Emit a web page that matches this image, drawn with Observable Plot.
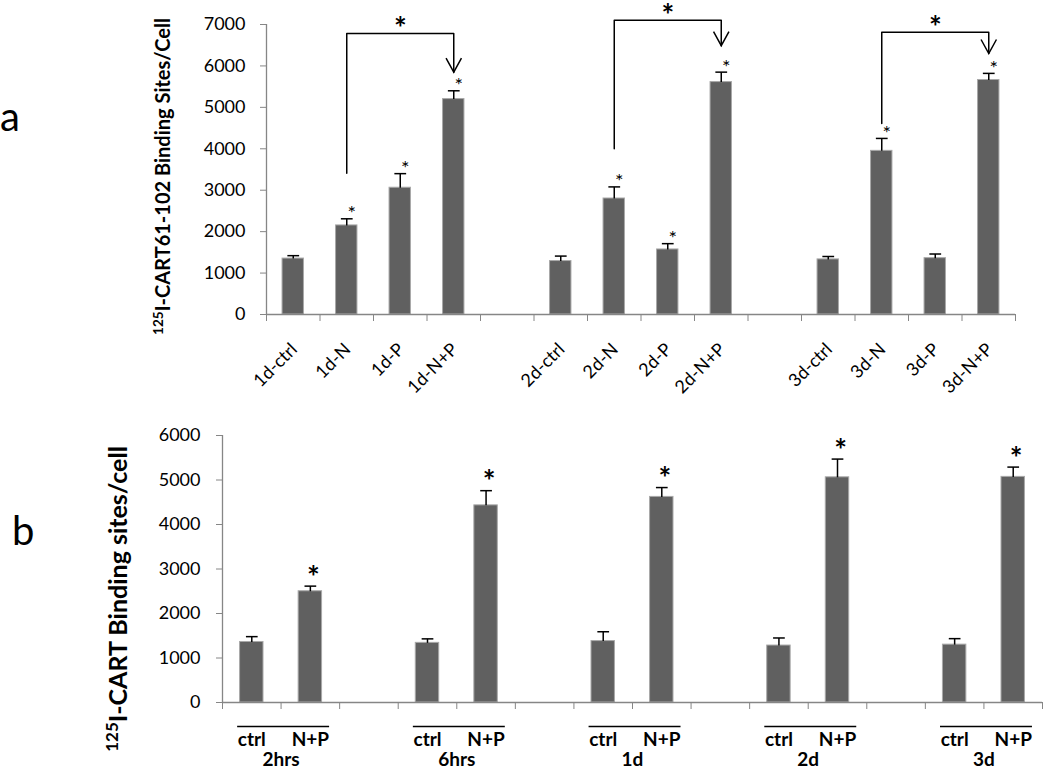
<!DOCTYPE html>
<html><head><meta charset="utf-8">
<script src="https://cdn.jsdelivr.net/npm/d3@7"></script>
<script src="https://cdn.jsdelivr.net/npm/@observablehq/plot@0.6"></script>
<style>
html,body{margin:0;padding:0;background:#fff;}
#wrap{position:relative;width:1050px;height:770px;overflow:hidden;font-family:Lato,sans-serif;color:#000;}
.plabel{position:absolute;font-family:Lato,sans-serif;font-size:40px;line-height:1;}
</style></head><body>
<div id="wrap">
  <div id="chartA" style="position:absolute;left:0;top:0"></div>
  <div id="chartB" style="position:absolute;left:0;top:420px"></div>
  <div class="plabel" style="left:0;top:96px">a</div>
  <div class="plabel" style="left:12px;top:510px">b</div>
</div>
<script>
// ---------- Panel a data ----------
const labelsA = ["1d-ctrl","1d-N","1d-P","1d-N+P","2d-ctrl","2d-N","2d-P","2d-N+P","3d-ctrl","3d-N","3d-P","3d-N+P"];
const meansA  = [1350, 2150, 3060, 5200, 1290, 2800, 1570, 5610, 1330, 3950, 1360, 5660];
const errorsA = [70, 160, 340, 200, 120, 280, 140, 240, 70, 300, 100, 160];
const starsA  = [false, true, true, true, false, true, true, true, false, true, false, true];
const yTicksA = [0, 1000, 2000, 3000, 4000, 5000, 6000, 7000];
const yLabelA = "I-CART61-102 Binding Sites/Cell";
// significance brackets (N vs N+P for each day)
const bracketFromA  = ["1d-N", "2d-N", "3d-N"];
const bracketToA    = ["1d-N+P", "2d-N+P", "3d-N+P"];
const bracketStartA = [3410, 4000, 4610];
const bracketTopA   = [6780, 7100, 6810];
const bracketTipA   = [5850, 6490, 6300];

// ---------- Panel b data ----------
const timesB    = ["2hrs", "6hrs", "1d", "2d", "3d"];
const treatB    = ["ctrl", "N+P"];
const ctrlMeansB = [1360, 1340, 1380, 1280, 1300];
const npMeansB   = [2500, 4430, 4620, 5060, 5070];
const ctrlErrB   = [120, 90, 210, 170, 135];
const npErrB     = [115, 330, 210, 410, 220];
const yTicksB   = [0, 1000, 2000, 3000, 4000, 5000, 6000];
const yLabelB   = "I-CART Binding sites/cell";

const AXIS = "#868686", BAR = "#606060", BAR_EDGE = "#a8a8a8";
const FONT = "Lato, sans-serif";

// chevron arrow head symbol
const chevron = {draw(ctx, size) { const r = Math.sqrt(size / Math.PI); ctx.moveTo(-0.55 * r, -r); ctx.lineTo(0, 0); ctx.lineTo(0.55 * r, -r); }};

// ----- build panel a -----
const slotA = i => i + Math.floor(i / 4);           // one empty slot between days
const dataA = labelsA.map((label, i) => ({label, mean: meansA[i], err: errorsA[i], star: starsA[i], c: slotA(i) + 0.5}));
const centerA = l => dataA.find(d => d.label === l).c;
const bracketsA = bracketFromA.map((f, i) => ({from: centerA(f), to: centerA(bracketToA[i]), start: bracketStartA[i], top: bracketTopA[i], tip: bracketTipA[i], id: i}));
const bracketPts = bracketsA.flatMap(b => [
  {x: b.from, y: b.start, id: b.id}, {x: b.from, y: b.top, id: b.id},
  {x: b.to, y: b.top, id: b.id}, {x: b.to, y: b.tip, id: b.id}]);
const nSlotsA = labelsA.length + 2;

const plotA = Plot.plot({
  width: 1050, height: 420,
  marginLeft: 266, marginRight: 35, marginTop: 24, marginBottom: 106,
  style: {fontFamily: FONT, fontSize: "18px", color: "#000", background: "#fff", overflow: "visible"},
  x: {domain: [0, nSlotsA], axis: null},
  y: {domain: [0, 7000], axis: null},
  marks: [
    Plot.rectY(dataA, {x1: d => d.c - 0.2, x2: d => d.c + 0.2, y: "mean", fill: BAR, stroke: BAR_EDGE, strokeWidth: 1}),
    Plot.link(dataA, {x1: "c", x2: "c", y1: "mean", y2: d => d.mean + d.err, stroke: "#000", strokeWidth: 1.5}),
    Plot.link(dataA, {x1: d => d.c - 0.11, x2: d => d.c + 0.11, y1: d => d.mean + d.err, y2: d => d.mean + d.err, stroke: "#000", strokeWidth: 1.5}),
    Plot.ruleX([0], {stroke: AXIS, strokeWidth: 1.3}),
    Plot.ruleY([0], {stroke: AXIS, strokeWidth: 1.3}),
    Plot.axisY({ticks: yTicksA, label: null, tickSize: 6, tickPadding: 15, stroke: AXIS, fontSize: 18, tickFormat: d => String(d)}),
    Plot.axisX({ticks: d3.range(0, nSlotsA + 1), label: null, tickSize: 7, stroke: AXIS, tickFormat: () => ""}),
    Plot.text(dataA, {x: "c", frameAnchor: "bottom", lineAnchor: "middle", text: "label", rotate: -45, textAnchor: "end", dx: 1, dy: 32, fontSize: 18, fill: "#000"}),
    Plot.text(dataA.filter(d => d.star), {x: "c", y: d => d.mean + d.err, text: () => "*", dx: 5, dy: -5, fontSize: 20, fill: "#000"}),
    Plot.line(bracketPts, {x: "x", y: "y", z: "id", stroke: "#000", strokeWidth: 1.5}),
    Plot.dot(bracketsA, {x: "to", y: "tip", symbol: chevron, r: 14, fill: "none", stroke: "#000", strokeWidth: 1.5}),
    Plot.text(bracketsA, {x: d => (d.from + d.to) / 2, y: "top", text: () => "*", dy: -4, fontSize: 30, fontWeight: "bold", fill: "#000"}),
    Plot.text([yLabelA], {frameAnchor: "left", lineAnchor: "middle", rotate: -90, dx: -103, dy: 7, fontSize: 20, fontWeight: "bold", textAnchor: "middle", fill: "#000"})
  ]
});
document.getElementById("chartA").append(plotA);

// ----- build panel b -----
const dataB = timesB.flatMap((t, k) => [
  {time: t, treat: treatB[0], mean: ctrlMeansB[k], err: ctrlErrB[k], c: k * 3 + 0.5, k},
  {time: t, treat: treatB[1], mean: npMeansB[k], err: npErrB[k], c: k * 3 + 1.5, k}]);
const groupsB = timesB.map((t, k) => ({time: t, x1: k * 3 + 0.25, x2: k * 3 + 1.82, mid: k * 3 + 1}));
const nSlotsB = timesB.length * 3 - 1;

const plotB = Plot.plot({
  width: 1050, height: 350,
  marginLeft: 222, marginRight: 8, marginTop: 15, marginBottom: 68,
  style: {fontFamily: FONT, fontSize: "18px", color: "#000", background: "#fff", overflow: "visible"},
  x: {domain: [0, nSlotsB], axis: null},
  y: {domain: [0, 6000], axis: null},
  marks: [
    Plot.rectY(dataB, {x1: d => d.c - 0.2, x2: d => d.c + 0.2, y: "mean", fill: BAR, stroke: BAR_EDGE, strokeWidth: 1}),
    Plot.link(dataB, {x1: "c", x2: "c", y1: "mean", y2: d => d.mean + d.err, stroke: "#000", strokeWidth: 1.5}),
    Plot.link(dataB, {x1: d => d.c - 0.1, x2: d => d.c + 0.1, y1: d => d.mean + d.err, y2: d => d.mean + d.err, stroke: "#000", strokeWidth: 1.5}),
    Plot.ruleX([0], {stroke: AXIS, strokeWidth: 1.3}),
    Plot.ruleY([0], {stroke: AXIS, strokeWidth: 1.3}),
    Plot.axisY({ticks: yTicksB, label: null, tickSize: 6, tickPadding: 16, stroke: AXIS, fontSize: 18, tickFormat: d => String(d)}),
    Plot.axisX({ticks: d3.range(0, nSlotsB + 1), label: null, tickSize: 7, stroke: AXIS, tickFormat: () => ""}),
    Plot.text(dataB.filter(d => d.treat === "N+P"), {x: "c", y: d => d.mean + d.err, text: () => "*", dx: 3, dy: -8, fontSize: 30, fontWeight: "bold", fill: "#000"}),
    Plot.link(groupsB, {x1: "x1", x2: "x2", y1: () => 0, y2: () => 0, dy: 24, stroke: "#000", strokeWidth: 1.5}),
    Plot.text(dataB, {x: "c", frameAnchor: "bottom", lineAnchor: "middle", text: "treat", dy: 37, fontSize: 19, fontWeight: "bold", fill: "#000"}),
    Plot.text(groupsB, {x: "mid", frameAnchor: "bottom", lineAnchor: "middle", text: "time", dy: 57, fontSize: 19, fontWeight: "bold", fill: "#000"}),
    Plot.text([yLabelB], {frameAnchor: "left", lineAnchor: "middle", rotate: -90, dx: -104, dy: 30, fontSize: 25, fontWeight: "bold", textAnchor: "middle", fill: "#000"})
  ]
});
document.getElementById("chartB").append(plotB);

// superscript "125" before the y-axis labels
function addSup(svg, label) {
  svg.querySelectorAll("text").forEach(t => {
    if (t.textContent === label) {
      t.textContent = "";
      const ns = "http://www.w3.org/2000/svg";
      const s = document.createElementNS(ns, "tspan");
      s.setAttribute("font-size", "0.68em"); s.setAttribute("dy", "-0.5em"); s.textContent = "125";
      const m = document.createElementNS(ns, "tspan");
      m.setAttribute("dy", "0.34em"); m.textContent = label;
      t.append(s, m);
    }
  });
}
addSup(plotA, yLabelA);
addSup(plotB, yLabelB);
</script>
</body></html>
